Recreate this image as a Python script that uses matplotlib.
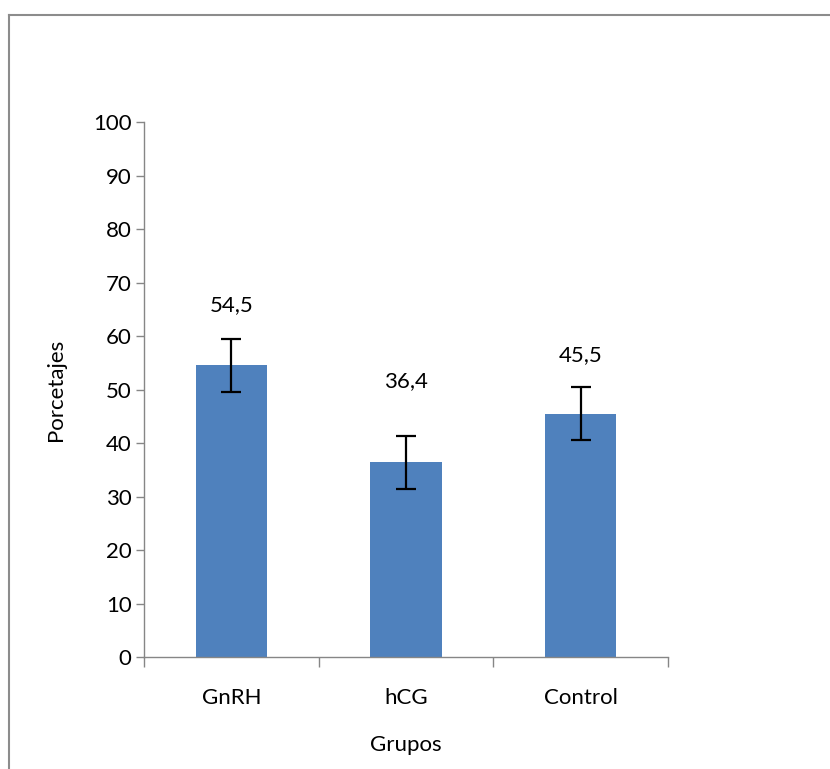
import matplotlib
matplotlib.use("Agg")
import matplotlib.pyplot as plt
from matplotlib.lines import Line2D

plt.rcParams['font.family'] = ['Lato', 'DejaVu Sans']

categories = ["GnRH", "hCG", "Control"]
values = [54.5, 36.4, 45.5]
errors = [5.0, 5.0, 5.0]
value_labels = ["54,5", "36,4", "45,5"]
label_heights = [65.8, 51.6, 56.4]
yticks = [0, 10, 20, 30, 40, 50, 60, 70, 80, 90, 100]

FS = 16
W, H = 830, 769
fig = plt.figure(figsize=(W / 100, H / 100), dpi=100)
ax = fig.add_axes([144 / W, 1 - 657 / H, (668 - 144) / W, (657 - 122) / H])

x = list(range(len(categories)))
ax.bar(x, values, width=0.41, color="#4F81BD", zorder=2)
ax.errorbar(x, values, yerr=errors, fmt="none", ecolor="black",
            elinewidth=1.6, capsize=7, capthick=1.6, zorder=3)
for xi, lab, ly in zip(x, value_labels, label_heights):
    ax.text(xi, ly, lab, ha="center", va="center", fontsize=FS, color="black")

ax.set_xlim(-0.5, len(categories) - 0.5)
ax.set_ylim(0, 100)
ax.set_yticks(yticks)
ax.set_yticklabels([str(t) for t in yticks], fontsize=FS)
ax.set_xticks(x)
ax.set_xticklabels(categories, fontsize=FS)
ax.set_xticks([i - 0.5 for i in range(len(categories) + 1)], minor=True)
ax.tick_params(axis="x", which="major", length=0, pad=22)
ax.tick_params(axis="x", which="minor", length=7, color="#868686", width=1)
ax.tick_params(axis="y", length=6, color="#868686", width=1, pad=3)

for s in ["top", "right"]:
    ax.spines[s].set_visible(False)
for s in ["left", "bottom"]:
    ax.spines[s].set_color("#868686")
    ax.spines[s].set_linewidth(1)

ax.set_xlabel("Grupos", fontsize=FS, labelpad=20)
ax.set_ylabel("Porcetajes", fontsize=FS, labelpad=19)

# outer chart border (left and top)
fig.add_artist(Line2D([9 / W, 9 / W], [0, 1 - 15 / H], transform=fig.transFigure,
                      color="#8c8c8c", lw=1.5))
fig.add_artist(Line2D([9 / W, 1], [1 - 15 / H, 1 - 15 / H], transform=fig.transFigure,
                      color="#8c8c8c", lw=1.5))

fig.savefig("out.png", dpi=100)
